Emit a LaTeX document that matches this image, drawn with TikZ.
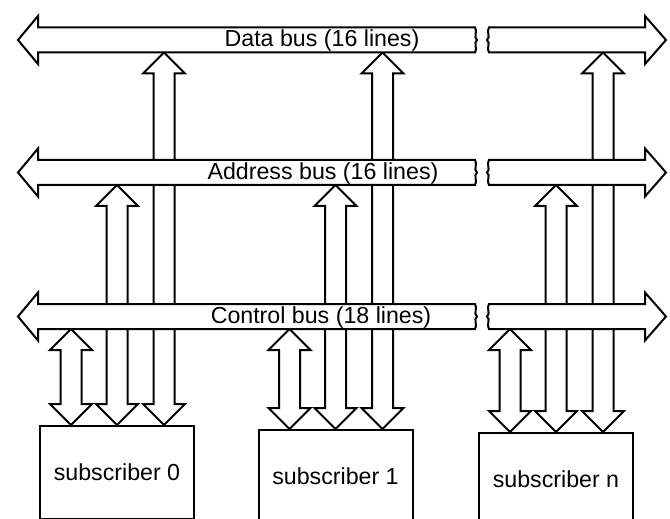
\documentclass[tikz,border=0pt]{standalone}
\usepackage{fontspec}
\setmainfont{Liberation Sans}
\usetikzlibrary{calc}

% one bus: #1 = y of its centre line, #2 = name of its lower edge
\newcommand\busbar[2]{%
  \draw[busline] (18,#1) -- (38,#1-24) -- (38,#1-12.5) -- (475,#1-12.5)
    .. controls (478,#1-8.5) and (473,#1-3) .. (477,#1)
    .. controls (473,#1+3) and (478,#1+8.5) .. (475,#1+12.5)
    -- (38,#1+12.5) -- (38,#1+24) -- cycle;
  \draw[busline] (489,#1-12.5) -- (645,#1-12.5) -- (645,#1-24) -- (666,#1)
    -- (645,#1+24) -- (645,#1+12.5) -- (489,#1+12.5)
    .. controls (486,#1+8.5) and (491,#1+3) .. (487,#1)
    .. controls (491,#1-3) and (486,#1-8.5) .. (489,#1-12.5) -- cycle;
  \coordinate (#2) at (0,#1+12.5);}

% fat two-way arrow from bus #1 down to the foot #2 on a box
\newcommand\fatlink[2]{%
  \coordinate (up) at (#2 |- #1);
  \draw[link] ($(up)+(-10.5,21)$) -- ++(-10.5,0) -- (up) -- ($(up)+(21,21)$) -- ++(-10.5,0)
    -- ($(#2)+(10.5,-21)$) -- ++(10.5,0) -- (#2) -- ($(#2)+(-21,-21)$) -- ++(10.5,0) -- cycle;}

\begin{document}
\begin{tikzpicture}[x=0.5pt, y=-0.5pt,
    busline/.style={draw, fill=white, line width=1pt, line join=miter},
    link/.style={draw, fill=white, line width=1pt, line join=miter},
    buslabel/.style={font=\fontsize{11.6}{14}\selectfont, inner sep=1pt},
    sub/.style={draw, line width=1pt, anchor=north, minimum width=77pt, minimum height=46.5pt,
      font=\fontsize{11.6}{14}\selectfont}]
  \useasboundingbox (0,0) rectangle (670,519);

  \node[sub] (s0) at (117,425) {subscriber 0};
  \node[sub] (s1) at (335.5,429) {subscriber 1};
  \node[sub] (sn) at (556,432) {subscriber n};

  \coordinate (s0-c) at ($(s0.north)+(-46,0)$);
  \coordinate (s0-a) at (s0.north);
  \coordinate (s0-d) at ($(s0.north)+(47,0)$);
  \coordinate (s1-c) at ($(s1.north)+(-46,0)$);
  \coordinate (s1-a) at (s1.north);
  \coordinate (s1-d) at ($(s1.north)+(47,0)$);
  \coordinate (sn-c) at ($(sn.north)+(-46,0)$);
  \coordinate (sn-a) at (sn.north);
  \coordinate (sn-d) at ($(sn.north)+(47,0)$);

  \coordinate (dbus) at (0,52.5);
  \coordinate (abus) at (0,185);
  \coordinate (cbus) at (0,329);

  \fatlink{cbus}{s0-c}
  \fatlink{abus}{s0-a}
  \fatlink{dbus}{s0-d}
  \fatlink{cbus}{s1-c}
  \fatlink{abus}{s1-a}
  \fatlink{dbus}{s1-d}
  \fatlink{cbus}{sn-c}
  \fatlink{abus}{sn-a}
  \fatlink{dbus}{sn-d}

  % buses lie over the links
  \busbar{40}{dtop}
  \busbar{172.5}{atop}
  \busbar{316.5}{ctop}

  \node[buslabel] (dlabel) at (322,40) {Data bus (16 lines)};
  \node[buslabel] (alabel) at (323,173) {Address bus (16 lines)};
  \node[buslabel] (clabel) at (321,317) {Control bus (18 lines)};
\end{tikzpicture}
\end{document}
